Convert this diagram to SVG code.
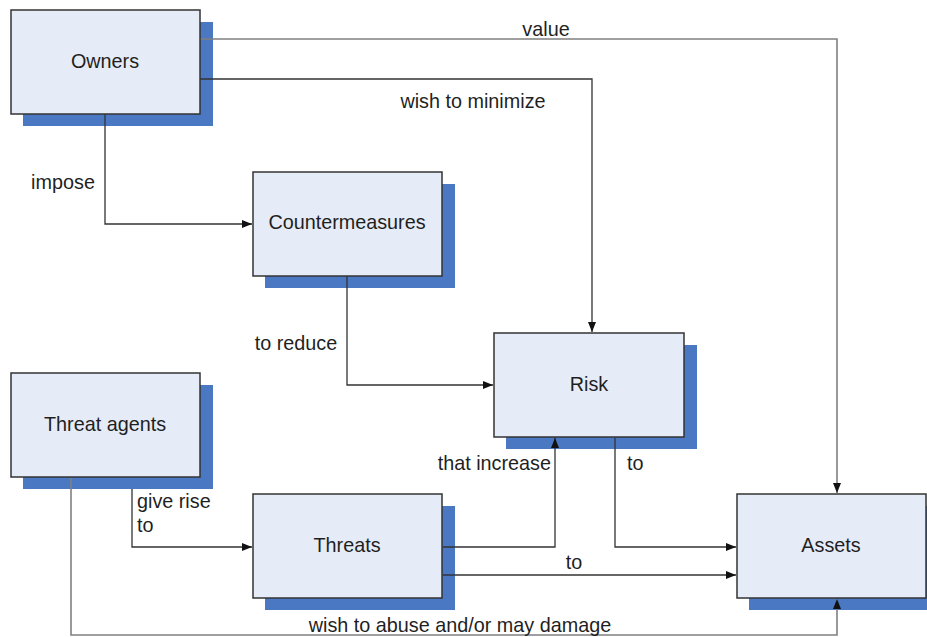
<svg xmlns="http://www.w3.org/2000/svg" width="927" height="637" viewBox="0 0 927 637">
  <defs>
    <marker id="arrow" viewBox="0 0 10 8" refX="10" refY="4" markerWidth="10" markerHeight="8" markerUnits="userSpaceOnUse" orient="auto">
      <path d="M0,0 L10,4 L0,8 Z" fill="#111"/>
    </marker>
  </defs>
  <style>
    .shadow { fill: #4a78c2; }
    .box { fill: #e6ecf7; stroke: #333; stroke-width: 1.5; }
    .label { font-family: "Liberation Sans", Arial, sans-serif; font-size: 19.8px; fill: #1f1f1f; }
    .mid { text-anchor: middle; }
    .end { text-anchor: end; }
    .conn { fill: none; stroke: #333; stroke-width: 1.3; }
    .conn.light { stroke: #808080; stroke-width: 1.6; }
  </style>
  <rect width="927" height="637" fill="#fff"/>

  <!-- node shadows sit beneath everything else -->
  <g id="shadows">
    <rect class="shadow" x="23" y="22" width="190" height="104"/>
    <rect class="shadow" x="265" y="184" width="190" height="104"/>
    <rect class="shadow" x="506" y="345" width="191" height="104"/>
    <rect class="shadow" x="23" y="385" width="190" height="104"/>
    <rect class="shadow" x="265" y="506" width="190" height="104"/>
    <rect class="shadow" x="749" y="506" width="190" height="104"/>
  </g>

  <g id="connectors">
    <path class="conn light" d="M200,39 H837 V493" marker-end="url(#arrow)"/>
    <path class="conn" d="M200,79 H592 V332" marker-end="url(#arrow)"/>
    <path class="conn" d="M105,114 V224 H252" marker-end="url(#arrow)"/>
    <path class="conn" d="M347,276 V385 H493" marker-end="url(#arrow)"/>
    <path class="conn" d="M132,489 V547 H252" marker-end="url(#arrow)"/>
    <path class="conn" d="M443,547 H555 V438" marker-end="url(#arrow)"/>
    <path class="conn" d="M615,438 V547 H736" marker-end="url(#arrow)"/>
    <path class="conn" d="M443,575 H736" marker-end="url(#arrow)"/>
    <path class="conn light" d="M71,478 V635 H837 V599" marker-end="url(#arrow)"/>
  </g>

  <g id="edge-labels">
    <text class="label mid" x="546" y="36">value</text>
    <text class="label mid" x="473" y="108">wish to minimize</text>
    <text class="label mid" x="63" y="189">impose</text>
    <text class="label mid" x="296" y="350">to reduce</text>
    <text class="label end" x="551" y="470">that increase</text>
    <text class="label" x="627" y="470">to</text>
    <text class="label" x="137" y="508">give rise</text>
    <text class="label" x="137" y="532">to</text>
    <text class="label mid" x="574" y="569">to</text>
    <text class="label mid" x="460" y="632">wish to abuse and/or may damage</text>
  </g>

  <g id="owners">
    <rect class="box" x="11" y="10" width="189" height="104"/>
    <text class="label mid" x="105" y="68">Owners</text>
  </g>
  <g id="countermeasures">
    <rect class="box" x="253" y="172" width="189" height="104"/>
    <text class="label mid" x="347" y="229">Countermeasures</text>
  </g>
  <g id="risk">
    <rect class="box" x="494" y="333" width="190" height="104"/>
    <text class="label mid" x="589" y="391">Risk</text>
  </g>
  <g id="threat-agents">
    <rect class="box" x="11" y="373" width="189" height="104"/>
    <text class="label mid" x="105" y="431">Threat agents</text>
  </g>
  <g id="threats">
    <rect class="box" x="253" y="494" width="189" height="104"/>
    <text class="label mid" x="347" y="552">Threats</text>
  </g>
  <g id="assets">
    <rect class="box" x="737" y="494" width="189" height="104"/>
    <text class="label mid" x="831" y="552">Assets</text>
  </g>
</svg>
